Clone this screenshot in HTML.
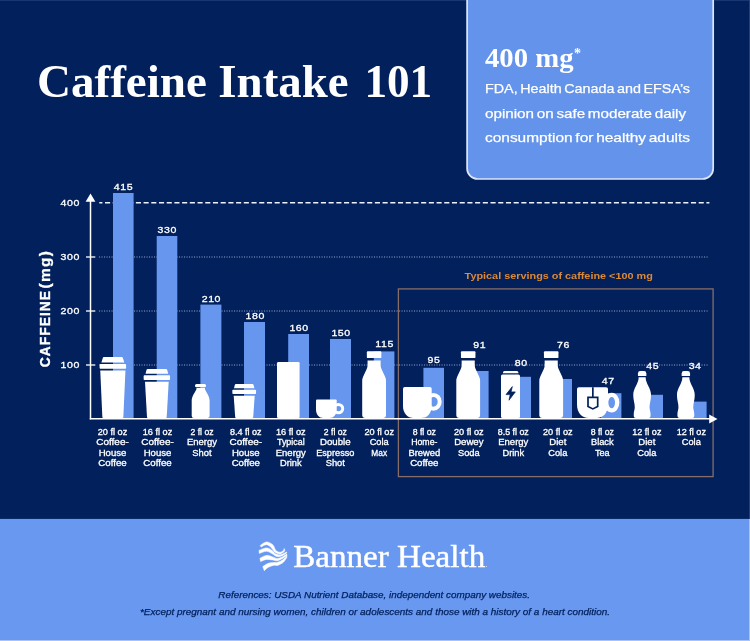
<!DOCTYPE html>
<html><head><meta charset="utf-8"><title>Caffeine Intake 101</title>
<style>html,body{margin:0;padding:0;background:#02205b;}body{width:750px;height:641px;overflow:hidden;font-family:"Liberation Sans",sans-serif;}svg{display:block;will-change:transform;}text{font-family:"Liberation Sans",sans-serif;}.serif{font-family:"Liberation Serif",serif;}</style>
</head><body>
<svg width="750" height="641" viewBox="0 0 750 641">
<rect x="0" y="0" width="750" height="641" fill="#02205b"/>
<rect x="0" y="518.9" width="750" height="123" fill="#6898f0"/>
<rect x="0" y="640" width="750" height="1" fill="#a9c3f5"/>
<text class="serif" x="36.9" y="96.8" font-size="46.4" font-weight="bold" fill="#ffffff" textLength="170.1" lengthAdjust="spacingAndGlyphs">Caffeine</text>
<text class="serif" x="218.35" y="96.8" font-size="46.4" font-weight="bold" fill="#ffffff" textLength="130.3" lengthAdjust="spacingAndGlyphs">Intake</text>
<text class="serif" x="364.4" y="96.8" font-size="46.4" font-weight="bold" fill="#ffffff" textLength="67.8" lengthAdjust="spacingAndGlyphs">101</text>
<path d="M467.1,-2 V168.4 a10.6,10.6 0 0 0 10.6,10.6 H702.6 a10.6,10.6 0 0 0 10.6,-10.6 V-2 Z" fill="#6393ea" stroke="#dde6fb" stroke-width="1.7"/>
<text class="serif" x="485" y="66.8" font-size="26.5" font-weight="bold" fill="#ffffff" textLength="88.6" lengthAdjust="spacingAndGlyphs">400 mg</text>
<text class="serif" x="574" y="57.5" font-size="14" font-weight="bold" fill="#ffffff">*</text>
<text x="485" y="93.4" font-size="13.4" style="word-spacing:-1.3px" fill="#ffffff" stroke="#ffffff" stroke-width="0.25" textLength="205" lengthAdjust="spacingAndGlyphs">FDA, Health Canada and EFSA’s</text>
<text x="485" y="117.7" font-size="13.4" style="word-spacing:-1.3px" fill="#ffffff" stroke="#ffffff" stroke-width="0.25" textLength="201" lengthAdjust="spacingAndGlyphs">opinion on safe moderate daily</text>
<text x="485" y="141.9" font-size="13.4" style="word-spacing:-1.3px" fill="#ffffff" stroke="#ffffff" stroke-width="0.25" textLength="205" lengthAdjust="spacingAndGlyphs">consumption for healthy adults</text>
<line x1="99.3" y1="202.75" x2="709.4" y2="202.75" stroke="#eef2fc" stroke-width="1.4" stroke-dasharray="5.1,2.61" stroke-dashoffset="2"/>
<line x1="99" y1="257" x2="709" y2="257" stroke="#8fa0cb" stroke-width="1" stroke-dasharray="1.1,1.4"/>
<line x1="99" y1="311" x2="709" y2="311" stroke="#8fa0cb" stroke-width="1" stroke-dasharray="1.1,1.4"/>
<line x1="99" y1="365" x2="709" y2="365" stroke="#8fa0cb" stroke-width="1" stroke-dasharray="1.1,1.4"/>
<rect x="113" y="193" width="20.6" height="225.5" fill="#6696ee"/>
<rect x="156.7" y="236" width="20.6" height="182.5" fill="#6696ee"/>
<rect x="200.4" y="304.6" width="21.0" height="113.9" fill="#6696ee"/>
<rect x="244" y="322" width="21.0" height="96.5" fill="#6696ee"/>
<rect x="288.2" y="334" width="20.8" height="84.5" fill="#6696ee"/>
<rect x="330" y="339" width="21.0" height="79.5" fill="#6696ee"/>
<rect x="373.8" y="351.4" width="20.6" height="67.1" fill="#6696ee"/>
<rect x="423.4" y="367.8" width="20.6" height="50.7" fill="#6696ee"/>
<rect x="468" y="371" width="20.6" height="47.5" fill="#6696ee"/>
<rect x="510.4" y="376.8" width="20.6" height="41.7" fill="#6696ee"/>
<rect x="551.4" y="379" width="20.6" height="39.5" fill="#6696ee"/>
<rect x="601" y="393.2" width="20.4" height="25.3" fill="#6696ee"/>
<rect x="642.4" y="394.8" width="20.6" height="23.7" fill="#6696ee"/>
<rect x="686" y="401.6" width="20.6" height="16.9" fill="#6696ee"/>
<rect x="398.4" y="288.9" width="314.7" height="187.7" fill="none" stroke="#876d66" stroke-width="1.3"/>
<text x="464.6" y="279.1" font-size="9.6" font-weight="bold" fill="#dd8a36" textLength="188.2" lengthAdjust="spacingAndGlyphs">Typical servings of caffeine &lt;100 mg</text>
<line x1="90.5" y1="200" x2="90.5" y2="419.4" stroke="#ffffff" stroke-width="1.5"/>
<polygon points="90.5,193.5 85.6,201.8 95.4,201.8" fill="#ffffff"/>
<line x1="89.75" y1="418.65" x2="710" y2="418.65" stroke="#ffffff" stroke-width="1.5"/>
<polygon points="717.5,418.9 709.2,414.4 709.2,423.4" fill="#ffffff"/>
<line x1="86" y1="257" x2="95.3" y2="257" stroke="#ffffff" stroke-width="1.3"/>
<line x1="86" y1="311" x2="95.3" y2="311" stroke="#ffffff" stroke-width="1.3"/>
<line x1="86" y1="365" x2="95.3" y2="365" stroke="#ffffff" stroke-width="1.3"/>
<text transform="translate(80.0,205.9) scale(1.15,1)" font-size="9.2" fill="#ffffff" stroke="#ffffff" stroke-width="0.3" text-anchor="end" style="letter-spacing:0.5px">400</text>
<text transform="translate(80.0,260.3) scale(1.15,1)" font-size="9.2" fill="#ffffff" stroke="#ffffff" stroke-width="0.3" text-anchor="end" style="letter-spacing:0.5px">300</text>
<text transform="translate(80.0,314.3) scale(1.15,1)" font-size="9.2" fill="#ffffff" stroke="#ffffff" stroke-width="0.3" text-anchor="end" style="letter-spacing:0.5px">200</text>
<text transform="translate(80.0,368.3) scale(1.15,1)" font-size="9.2" fill="#ffffff" stroke="#ffffff" stroke-width="0.3" text-anchor="end" style="letter-spacing:0.5px">100</text>
<text transform="translate(49.9,367.3) rotate(-90)" font-size="13.8" font-weight="bold" fill="#ffffff" stroke="#ffffff" stroke-width="0.35" style="letter-spacing:1.04px">CAFFEINE</text>
<text transform="translate(49.9,288.4) rotate(-90) scale(1.12,1)" font-size="13.8" font-weight="bold" fill="#ffffff" stroke="#ffffff" stroke-width="0.3" style="letter-spacing:1.15px">(mg)</text>
<text transform="translate(123.5,190.4) scale(1.15,1)" font-size="9.2" fill="#ffffff" stroke="#ffffff" stroke-width="0.3" text-anchor="middle" style="letter-spacing:0.5px">415</text>
<text transform="translate(167.3,233.3) scale(1.15,1)" font-size="9.2" fill="#ffffff" stroke="#ffffff" stroke-width="0.3" text-anchor="middle" style="letter-spacing:0.5px">330</text>
<text transform="translate(211.4,302.4) scale(1.15,1)" font-size="9.2" fill="#ffffff" stroke="#ffffff" stroke-width="0.3" text-anchor="middle" style="letter-spacing:0.5px">210</text>
<text transform="translate(255.3,318.6) scale(1.15,1)" font-size="9.2" fill="#ffffff" stroke="#ffffff" stroke-width="0.3" text-anchor="middle" style="letter-spacing:0.5px">180</text>
<text transform="translate(299.1,331.4) scale(1.15,1)" font-size="9.2" fill="#ffffff" stroke="#ffffff" stroke-width="0.3" text-anchor="middle" style="letter-spacing:0.5px">160</text>
<text transform="translate(341.1,336) scale(1.15,1)" font-size="9.2" fill="#ffffff" stroke="#ffffff" stroke-width="0.3" text-anchor="middle" style="letter-spacing:0.5px">150</text>
<text transform="translate(384.6,347) scale(1.15,1)" font-size="9.2" fill="#ffffff" stroke="#ffffff" stroke-width="0.3" text-anchor="middle" style="letter-spacing:0.5px">115</text>
<text transform="translate(434.0,363) scale(1.15,1)" font-size="9.2" fill="#ffffff" stroke="#ffffff" stroke-width="0.3" text-anchor="middle" style="letter-spacing:0.5px">95</text>
<text transform="translate(479.8,348.3) scale(1.15,1)" font-size="9.2" fill="#ffffff" stroke="#ffffff" stroke-width="0.3" text-anchor="middle" style="letter-spacing:0.5px">91</text>
<text transform="translate(521.3,366.4) scale(1.15,1)" font-size="9.2" fill="#ffffff" stroke="#ffffff" stroke-width="0.3" text-anchor="middle" style="letter-spacing:0.5px">80</text>
<text transform="translate(563.5,348) scale(1.15,1)" font-size="9.2" fill="#ffffff" stroke="#ffffff" stroke-width="0.3" text-anchor="middle" style="letter-spacing:0.5px">76</text>
<text transform="translate(608.3,384) scale(1.15,1)" font-size="9.2" fill="#ffffff" stroke="#ffffff" stroke-width="0.3" text-anchor="middle" style="letter-spacing:0.5px">47</text>
<text transform="translate(652.6999999999999,368.6) scale(1.15,1)" font-size="9.2" fill="#ffffff" stroke="#ffffff" stroke-width="0.3" text-anchor="middle" style="letter-spacing:0.5px">45</text>
<text transform="translate(695.0999999999999,368.6) scale(1.15,1)" font-size="9.2" fill="#ffffff" stroke="#ffffff" stroke-width="0.3" text-anchor="middle" style="letter-spacing:0.5px">34</text>
<path d="M104.0,356.9 H121.69999999999999 Q122.69999999999999,356.9 122.89999999999999,357.9 L124.3,362.5 H101.39999999999999 L102.8,357.9 Q103.0,356.9 104.0,356.9 Z" fill="#fff"/><rect x="99.6" y="364.1" width="26.5" height="4.699999999999989" rx="0.8" fill="#fff"/><path d="M100.25,370.5 H125.44999999999999 L123.35,417.2 Q123.25,418.0 122.35,418.0 H103.35 Q102.44999999999999,418.0 102.35,417.2 Z" fill="#fff"/>
<path d="M147.7,369.0 H166.0 Q167.0,369.0 167.2,370.0 L168.2,373.7 H145.5 L146.5,370.0 Q146.7,369.0 147.7,369.0 Z" fill="#fff"/><rect x="143.65" y="375.3" width="26.4" height="4.699999999999989" rx="0.8" fill="#fff"/><path d="M145.0,381.7 H168.7 L166.7,417.2 Q166.6,418.0 165.7,418.0 H148.0 Q147.1,418.0 147.0,417.2 Z" fill="#fff"/>
<path d="M236.0,384.0 H252.39999999999998 Q253.39999999999998,384.0 253.59999999999997,385.0 L254.39999999999998,388.3 H234.0 L234.8,385.0 Q235.0,384.0 236.0,384.0 Z" fill="#fff"/><rect x="232.35" y="389.7" width="23.7" height="4.300000000000011" rx="0.8" fill="#fff"/><path d="M233.7,395.7 H254.7 L253.2,417.2 Q253.1,418.0 252.2,418.0 H236.2 Q235.29999999999998,418.0 235.2,417.2 Z" fill="#fff"/>
<rect x="195" y="384" width="11" height="3.2" rx="1.5" fill="#fff"/>
<path d="M196.6,388.1 H204.8 L205.2,389.8 C206.3,392.6 209.6,396.2 209.6,400.6 V416.0 Q209.6,418.0 207.6,418.0 H193.7 Q191.7,418.0 191.7,416.0 V400.6 C191.7,396.2 195,392.6 196.2,389.8 Z" fill="#fff"/>
<rect x="277" y="362" width="22.6" height="56.0" rx="1.2" fill="#fff"/>
<path d="M316,400.6 Q316,399.6 317,399.6 H335.7 Q336.7,399.6 336.7,400.6 V409.5 C336.7,414.5 333.5,418.0 329.5,418.0 H323.2 C319.2,418.0 316,414.5 316,409.5 Z" fill="#fff"/>
<ellipse cx="338.3" cy="408.6" rx="4.4" ry="4.2" fill="none" stroke="#fff" stroke-width="3"/>
<rect x="366.85" y="351.25" width="14.5" height="6.85" rx="0.9" fill="#fff"/><path d="M367.55,360.5 H380.65000000000003 V365.6 Q380.70000000000005,367.3 381.5,369 L385.0,376.4 Q386.0,378.5 386.0,380.8 V415.0 Q386.0,418.0 383.0,418.0 H365.20000000000005 Q362.20000000000005,418.0 362.20000000000005,415.0 V380.8 Q362.20000000000005,378.5 363.20000000000005,376.4 L366.70000000000005,369 Q367.5,367.3 367.55,365.6 Z" fill="#fff"/>
<rect x="460.95" y="351.25" width="14.5" height="6.85" rx="0.9" fill="#fff"/><path d="M461.65,360.5 H474.75 V365.6 Q474.8,367.3 475.59999999999997,369 L479.09999999999997,376.4 Q480.09999999999997,378.5 480.09999999999997,380.8 V415.0 Q480.09999999999997,418.0 477.09999999999997,418.0 H459.3 Q456.3,418.0 456.3,415.0 V380.8 Q456.3,378.5 457.3,376.4 L460.8,369 Q461.59999999999997,367.3 461.65,365.6 Z" fill="#fff"/>
<rect x="543.95" y="351.25" width="14.5" height="6.85" rx="0.9" fill="#fff"/><path d="M544.6500000000001,360.5 H557.75 V365.6 Q557.8000000000001,367.3 558.6,369 L562.1,376.4 Q563.1,378.5 563.1,380.8 V415.0 Q563.1,418.0 560.1,418.0 H542.3000000000001 Q539.3000000000001,418.0 539.3000000000001,415.0 V380.8 Q539.3000000000001,378.5 540.3000000000001,376.4 L543.8000000000001,369 Q544.6,367.3 544.6500000000001,365.6 Z" fill="#fff"/>
<ellipse cx="433.5" cy="401.8" rx="6.2" ry="6.9" fill="none" stroke="#fff" stroke-width="4"/>
<path d="M403,388.8 Q403,387 404.8,387 H429.9 Q431.7,387 431.7,388.8 V406 C431.7,413.5 427,418.0 421.5,418.0 H413.2 C407.7,418.0 403,413.5 403,406 Z" fill="#fff"/>
<path d="M503,373.2 V372.6 Q503,371 504.6,371 H516.8 Q518.4,371 518.4,372.6 V373.2 Z" fill="#fff"/>
<path d="M501,376 Q501,374.5 502.5,374.5 H518.5 Q520,374.5 520,376 V416.5 Q520,418.0 518.5,418.0 H502.5 Q501,418.0 501,416.5 Z" fill="#fff"/>
<path d="M512.3,386.6 L506,394.6 H510.2 L509,400.2 L515.3,391.9 H511.1 Z" fill="#02205b" stroke="#02205b" stroke-width="0.7" stroke-linejoin="round"/>
<ellipse cx="611.7" cy="402.6" rx="5.5" ry="7.8" fill="none" stroke="#fff" stroke-width="4.3"/>
<path d="M577,389.1 Q577,387.3 578.8,387.3 H606.2 Q608,387.3 608,389.1 V404.5 C608,413 603,418.0 596.5,418.0 H588.5 C582,418.0 577,413 577,404.5 Z" fill="#fff"/>
<path d="M592.85,387.3 V397 M588,397.3 H597.7 V406.5 L592.85,408.9 L588,406.5 Z" fill="none" stroke="#02205b" stroke-width="1.7" stroke-linejoin="miter"/>
<path d="M637.9499999999999,376 V373.4 Q637.9499999999999,371 640.35,371 H643.9499999999999 Q646.35,371 646.35,373.4 V376 Z" fill="#fff"/><path d="M638.65,377.3 H645.65 C645.65,384 651.05,388 651.05,395 C651.05,400 649.55,403 649.55,407.3 C649.55,410 650.55,411 650.55,414 V416.0 Q650.55,418.0 648.55,418.0 H635.75 Q633.75,418.0 633.75,416.0 V414 C633.75,411 634.75,410 634.75,407.3 C634.75,403 633.25,400 633.25,395 C633.25,388 638.65,384 638.65,377.3 Z" fill="#fff"/>
<path d="M681.65,376 V373.4 Q681.65,371 684.0500000000001,371 H687.65 Q690.0500000000001,371 690.0500000000001,373.4 V376 Z" fill="#fff"/><path d="M682.35,377.3 H689.35 C689.35,384 694.75,388 694.75,395 C694.75,400 693.25,403 693.25,407.3 C693.25,410 694.25,411 694.25,414 V416.0 Q694.25,418.0 692.25,418.0 H679.45 Q677.45,418.0 677.45,416.0 V414 C677.45,411 678.45,410 678.45,407.3 C678.45,403 676.95,400 676.95,395 C676.95,388 682.35,384 682.35,377.3 Z" fill="#fff"/>
<text x="112.5" y="435.10" font-size="9.0" fill="#ffffff" stroke="#ffffff" stroke-width="0.3" text-anchor="middle" textLength="29.6" lengthAdjust="spacingAndGlyphs">20 fl oz</text>
<text x="112.5" y="445.35" font-size="9.0" fill="#ffffff" stroke="#ffffff" stroke-width="0.3" text-anchor="middle" textLength="32.5" lengthAdjust="spacingAndGlyphs">Coffee-</text>
<text x="112.5" y="455.60" font-size="9.0" fill="#ffffff" stroke="#ffffff" stroke-width="0.3" text-anchor="middle" textLength="27.7" lengthAdjust="spacingAndGlyphs">House</text>
<text x="112.5" y="465.85" font-size="9.0" fill="#ffffff" stroke="#ffffff" stroke-width="0.3" text-anchor="middle" textLength="28.3" lengthAdjust="spacingAndGlyphs">Coffee</text>
<text x="157.5" y="435.10" font-size="9.0" fill="#ffffff" stroke="#ffffff" stroke-width="0.3" text-anchor="middle" textLength="29.6" lengthAdjust="spacingAndGlyphs">16 fl oz</text>
<text x="157.5" y="445.35" font-size="9.0" fill="#ffffff" stroke="#ffffff" stroke-width="0.3" text-anchor="middle" textLength="32.5" lengthAdjust="spacingAndGlyphs">Coffee-</text>
<text x="157.5" y="455.60" font-size="9.0" fill="#ffffff" stroke="#ffffff" stroke-width="0.3" text-anchor="middle" textLength="27.7" lengthAdjust="spacingAndGlyphs">House</text>
<text x="157.5" y="465.85" font-size="9.0" fill="#ffffff" stroke="#ffffff" stroke-width="0.3" text-anchor="middle" textLength="28.3" lengthAdjust="spacingAndGlyphs">Coffee</text>
<text x="202" y="435.10" font-size="9.0" fill="#ffffff" stroke="#ffffff" stroke-width="0.3" text-anchor="middle" textLength="23" lengthAdjust="spacingAndGlyphs">2 fl oz</text>
<text x="202" y="445.35" font-size="9.0" fill="#ffffff" stroke="#ffffff" stroke-width="0.3" text-anchor="middle" textLength="30" lengthAdjust="spacingAndGlyphs">Energy</text>
<text x="202" y="455.60" font-size="9.0" fill="#ffffff" stroke="#ffffff" stroke-width="0.3" text-anchor="middle" textLength="19.3" lengthAdjust="spacingAndGlyphs">Shot</text>
<text x="245.8" y="435.10" font-size="9.0" fill="#ffffff" stroke="#ffffff" stroke-width="0.3" text-anchor="middle" textLength="31.7" lengthAdjust="spacingAndGlyphs">8.4 fl oz</text>
<text x="245.8" y="445.35" font-size="9.0" fill="#ffffff" stroke="#ffffff" stroke-width="0.3" text-anchor="middle" textLength="32.5" lengthAdjust="spacingAndGlyphs">Coffee-</text>
<text x="245.8" y="455.60" font-size="9.0" fill="#ffffff" stroke="#ffffff" stroke-width="0.3" text-anchor="middle" textLength="27.7" lengthAdjust="spacingAndGlyphs">House</text>
<text x="245.8" y="465.85" font-size="9.0" fill="#ffffff" stroke="#ffffff" stroke-width="0.3" text-anchor="middle" textLength="28.3" lengthAdjust="spacingAndGlyphs">Coffee</text>
<text x="290.8" y="435.10" font-size="9.0" fill="#ffffff" stroke="#ffffff" stroke-width="0.3" text-anchor="middle" textLength="29.6" lengthAdjust="spacingAndGlyphs">16 fl oz</text>
<text x="290.8" y="445.35" font-size="9.0" fill="#ffffff" stroke="#ffffff" stroke-width="0.3" text-anchor="middle" textLength="27.7" lengthAdjust="spacingAndGlyphs">Typical</text>
<text x="290.8" y="455.60" font-size="9.0" fill="#ffffff" stroke="#ffffff" stroke-width="0.3" text-anchor="middle" textLength="30" lengthAdjust="spacingAndGlyphs">Energy</text>
<text x="290.8" y="465.85" font-size="9.0" fill="#ffffff" stroke="#ffffff" stroke-width="0.3" text-anchor="middle" textLength="21.7" lengthAdjust="spacingAndGlyphs">Drink</text>
<text x="335.3" y="435.10" font-size="9.0" fill="#ffffff" stroke="#ffffff" stroke-width="0.3" text-anchor="middle" textLength="23" lengthAdjust="spacingAndGlyphs">2 fl oz</text>
<text x="335.3" y="445.35" font-size="9.0" fill="#ffffff" stroke="#ffffff" stroke-width="0.3" text-anchor="middle" textLength="30.7" lengthAdjust="spacingAndGlyphs">Double</text>
<text x="335.3" y="455.60" font-size="9.0" fill="#ffffff" stroke="#ffffff" stroke-width="0.3" text-anchor="middle" textLength="38.3" lengthAdjust="spacingAndGlyphs">Espresso</text>
<text x="335.3" y="465.85" font-size="9.0" fill="#ffffff" stroke="#ffffff" stroke-width="0.3" text-anchor="middle" textLength="19.3" lengthAdjust="spacingAndGlyphs">Shot</text>
<text x="379.2" y="435.10" font-size="9.0" fill="#ffffff" stroke="#ffffff" stroke-width="0.3" text-anchor="middle" textLength="29.6" lengthAdjust="spacingAndGlyphs">20 fl oz</text>
<text x="379.2" y="445.35" font-size="9.0" fill="#ffffff" stroke="#ffffff" stroke-width="0.3" text-anchor="middle" textLength="19" lengthAdjust="spacingAndGlyphs">Cola</text>
<text x="379.2" y="455.60" font-size="9.0" fill="#ffffff" stroke="#ffffff" stroke-width="0.3" text-anchor="middle" textLength="15.7" lengthAdjust="spacingAndGlyphs">Max</text>
<text x="424.3" y="435.10" font-size="9.0" fill="#ffffff" stroke="#ffffff" stroke-width="0.3" text-anchor="middle" textLength="23.3" lengthAdjust="spacingAndGlyphs">8 fl oz</text>
<text x="424.3" y="445.35" font-size="9.0" fill="#ffffff" stroke="#ffffff" stroke-width="0.3" text-anchor="middle" textLength="26.3" lengthAdjust="spacingAndGlyphs">Home-</text>
<text x="424.3" y="455.60" font-size="9.0" fill="#ffffff" stroke="#ffffff" stroke-width="0.3" text-anchor="middle" textLength="31.7" lengthAdjust="spacingAndGlyphs">Brewed</text>
<text x="424.3" y="465.85" font-size="9.0" fill="#ffffff" stroke="#ffffff" stroke-width="0.3" text-anchor="middle" textLength="28.3" lengthAdjust="spacingAndGlyphs">Coffee</text>
<text x="468.8" y="435.10" font-size="9.0" fill="#ffffff" stroke="#ffffff" stroke-width="0.3" text-anchor="middle" textLength="29.6" lengthAdjust="spacingAndGlyphs">20 fl oz</text>
<text x="468.8" y="445.35" font-size="9.0" fill="#ffffff" stroke="#ffffff" stroke-width="0.3" text-anchor="middle" textLength="29.3" lengthAdjust="spacingAndGlyphs">Dewey</text>
<text x="468.8" y="455.60" font-size="9.0" fill="#ffffff" stroke="#ffffff" stroke-width="0.3" text-anchor="middle" textLength="21.7" lengthAdjust="spacingAndGlyphs">Soda</text>
<text x="513.3" y="435.10" font-size="9.0" fill="#ffffff" stroke="#ffffff" stroke-width="0.3" text-anchor="middle" textLength="31" lengthAdjust="spacingAndGlyphs">8.5 fl oz</text>
<text x="513.3" y="445.35" font-size="9.0" fill="#ffffff" stroke="#ffffff" stroke-width="0.3" text-anchor="middle" textLength="30" lengthAdjust="spacingAndGlyphs">Energy</text>
<text x="513.3" y="455.60" font-size="9.0" fill="#ffffff" stroke="#ffffff" stroke-width="0.3" text-anchor="middle" textLength="21.7" lengthAdjust="spacingAndGlyphs">Drink</text>
<text x="557.8" y="435.10" font-size="9.0" fill="#ffffff" stroke="#ffffff" stroke-width="0.3" text-anchor="middle" textLength="29.6" lengthAdjust="spacingAndGlyphs">20 fl oz</text>
<text x="557.8" y="445.35" font-size="9.0" fill="#ffffff" stroke="#ffffff" stroke-width="0.3" text-anchor="middle" textLength="17" lengthAdjust="spacingAndGlyphs">Diet</text>
<text x="557.8" y="455.60" font-size="9.0" fill="#ffffff" stroke="#ffffff" stroke-width="0.3" text-anchor="middle" textLength="19" lengthAdjust="spacingAndGlyphs">Cola</text>
<text x="602.3" y="435.10" font-size="9.0" fill="#ffffff" stroke="#ffffff" stroke-width="0.3" text-anchor="middle" textLength="23.3" lengthAdjust="spacingAndGlyphs">8 fl oz</text>
<text x="602.3" y="445.35" font-size="9.0" fill="#ffffff" stroke="#ffffff" stroke-width="0.3" text-anchor="middle" textLength="22.7" lengthAdjust="spacingAndGlyphs">Black</text>
<text x="602.3" y="455.60" font-size="9.0" fill="#ffffff" stroke="#ffffff" stroke-width="0.3" text-anchor="middle" textLength="14.7" lengthAdjust="spacingAndGlyphs">Tea</text>
<text x="646.8" y="435.10" font-size="9.0" fill="#ffffff" stroke="#ffffff" stroke-width="0.3" text-anchor="middle" textLength="29.3" lengthAdjust="spacingAndGlyphs">12 fl oz</text>
<text x="646.8" y="445.35" font-size="9.0" fill="#ffffff" stroke="#ffffff" stroke-width="0.3" text-anchor="middle" textLength="17" lengthAdjust="spacingAndGlyphs">Diet</text>
<text x="646.8" y="455.60" font-size="9.0" fill="#ffffff" stroke="#ffffff" stroke-width="0.3" text-anchor="middle" textLength="19" lengthAdjust="spacingAndGlyphs">Cola</text>
<text x="691.3" y="435.10" font-size="9.0" fill="#ffffff" stroke="#ffffff" stroke-width="0.3" text-anchor="middle" textLength="29.3" lengthAdjust="spacingAndGlyphs">12 fl oz</text>
<text x="691.3" y="445.35" font-size="9.0" fill="#ffffff" stroke="#ffffff" stroke-width="0.3" text-anchor="middle" textLength="19" lengthAdjust="spacingAndGlyphs">Cola</text>
<path d="M260.25,545.38 C261.29,544.80 264.42,542.04 266.50,541.94 C268.58,541.83 271.19,543.34 272.75,544.75 C274.31,546.16 274.62,549.12 275.88,550.38 C277.12,551.62 279.00,552.23 280.25,552.25 C281.50,552.27 282.73,551.12 283.38,550.50 C284.02,549.88 284.00,548.83 284.12,548.50 L284.12,548.50 C284.21,548.94 285.27,550.22 284.62,551.12 C283.98,552.03 281.81,553.70 280.25,553.94 C278.69,554.18 276.71,553.57 275.25,552.56 C273.79,551.55 272.96,549.18 271.50,547.88 C270.04,546.57 268.25,544.88 266.50,544.75 C264.75,544.62 261.92,546.73 261.00,547.12 Z" fill="#fff" stroke="#fff" stroke-width="0.5" stroke-linejoin="round"/>
<path d="M259.00,550.38 C260.25,549.96 264.31,547.88 266.50,547.88 C268.69,547.88 270.56,549.33 272.12,550.38 C273.69,551.42 274.42,553.40 275.88,554.12 C277.33,554.85 279.10,555.11 280.88,554.75 C282.65,554.39 285.56,552.41 286.50,551.94 L286.88,552.88 C285.98,553.40 283.23,555.38 281.50,556.00 C279.77,556.62 277.96,556.94 276.50,556.62 C275.04,556.31 274.42,555.01 272.75,554.12 C271.08,553.24 268.74,551.42 266.50,551.31 C264.26,551.21 260.51,553.14 259.31,553.50 Z" fill="#fff" stroke="#fff" stroke-width="0.5" stroke-linejoin="round"/>
<path d="M259.94,558.19 C261.03,557.72 264.36,555.58 266.50,555.38 C268.64,555.17 270.98,556.42 272.75,556.94 C274.52,557.46 275.56,558.50 277.12,558.50 C278.69,558.50 280.51,557.67 282.12,556.94 C283.74,556.21 286.03,554.59 286.81,554.12 L287.12,555.38 C286.50,555.79 284.94,556.99 283.38,557.88 C281.81,558.76 279.52,560.32 277.75,560.69 C275.98,561.05 274.62,560.27 272.75,560.06 C270.88,559.85 268.53,559.18 266.50,559.44 C264.47,559.70 261.55,561.26 260.56,561.62 Z" fill="#fff" stroke="#fff" stroke-width="0.5" stroke-linejoin="round"/>
<path d="M262.75,566.62 C263.58,566.10 266.08,564.18 267.75,563.50 C269.42,562.82 271.08,562.77 272.75,562.56 C274.42,562.35 276.08,562.72 277.75,562.25 C279.42,561.78 281.24,560.79 282.75,559.75 C284.26,558.71 286.14,556.62 286.81,556.00 L286.94,557.25 C286.34,558.08 284.91,560.90 283.38,562.25 C281.84,563.60 279.42,564.85 277.75,565.38 C276.08,565.90 274.94,565.06 273.38,565.38 C271.81,565.69 269.89,566.36 268.38,567.25 C266.86,568.14 264.99,570.11 264.31,570.69 Z" fill="#fff" stroke="#fff" stroke-width="0.5" stroke-linejoin="round"/>
<text class="serif" x="293.2" y="566.7" font-size="31" fill="#ffffff" stroke="#ffffff" stroke-width="0.45" textLength="192" lengthAdjust="spacingAndGlyphs">Banner Health</text>
<text class="serif" x="485.6" y="566.7" font-size="8" fill="#ffffff">.</text>
<text x="218.3" y="598.3" font-size="9.2" font-style="italic" fill="#02205b" stroke="#02205b" stroke-width="0.25" textLength="311.7" lengthAdjust="spacingAndGlyphs">References: USDA Nutrient Database, independent company websites.</text>
<text x="140" y="615" font-size="9.2" font-style="italic" fill="#02205b" stroke="#02205b" stroke-width="0.25" textLength="470" lengthAdjust="spacingAndGlyphs">*Except pregnant and nursing women, children or adolescents and those with a history of a heart condition.</text>
<rect x="0" y="0" width="466" height="1" fill="#1a3670"/>
<rect x="714" y="0" width="36" height="1" fill="#1a3670"/>
<rect x="749" y="0" width="1" height="519" fill="#253f78"/>
<rect x="749" y="519" width="1" height="122" fill="#a9c3f5"/>
</svg></body></html>
